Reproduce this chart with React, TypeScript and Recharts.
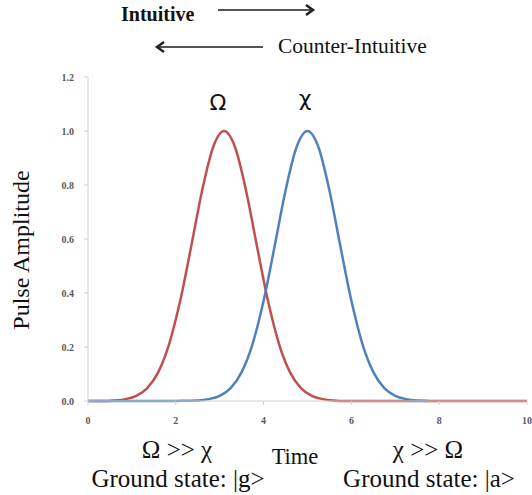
import { LineChart, Line, XAxis, YAxis } from "recharts";

// Omega pulse (red)
const omegaTime = [
  0, 0.1, 0.35, 0.6, 0.85, 1.1, 1.35, 1.6, 1.85, 2.1, 2.35, 2.6, 2.85, 3.1,
  3.35, 3.6, 3.85, 4.1, 4.35, 4.6, 4.85, 5.1, 5.35, 5.6, 5.85, 6.1, 10,
];
const omegaAmp = [
  0, 0, 0, 0.002, 0.007, 0.019, 0.048, 0.107, 0.212, 0.371, 0.572, 0.78,
  0.94, 1.0, 0.94, 0.78, 0.572, 0.371, 0.212, 0.107, 0.048, 0.019, 0.007,
  0.002, 0, 0, 0,
];

// Chi pulse (blue)
const chiTime = [
  0, 1, 2, 2.25, 2.5, 2.75, 3, 3.25, 3.5, 3.75, 4, 4.25, 4.5, 4.75, 5, 5.25,
  5.5, 5.75, 6, 6.25, 6.5, 6.75, 7, 7.25, 7.5, 7.75,
];
const chiAmp = [
  0, 0, 0, 0.001, 0.002, 0.007, 0.019, 0.048, 0.107, 0.212, 0.371, 0.572,
  0.78, 0.94, 1.0, 0.94, 0.78, 0.572, 0.371, 0.212, 0.107, 0.048, 0.019,
  0.007, 0.002, 0,
];

const xTicks = [0, 2, 4, 6, 8, 10];
const yTicks = [0, 0.2, 0.4, 0.6, 0.8, 1.0, 1.2];

const omegaData = omegaTime.map((t, i) => ({ t, v: omegaAmp[i] }));
const chiData = chiTime.map((t, i) => ({ t, v: chiAmp[i] }));

const serif = "'Liberation Serif', 'DejaVu Serif', serif";
const sans = "'DejaVu Sans', sans-serif";

const tickStyle = {
  fontSize: 10,
  fontFamily: serif,
  fontWeight: 700,
  fill: "#595959",
};

export default function App() {
  return (
    <div style={{ position: "absolute", left: 0, top: 0, width: 532, height: 495, background: "#fff" }}>
      <LineChart
        width={532}
        height={495}
        margin={{ top: 77, right: 5, bottom: 0, left: 0 }}
      >
        <XAxis
          dataKey="t"
          type="number"
          domain={[0, 10]}
          ticks={xTicks}
          height={94}
          tickSize={4}
          tickMargin={12}
          tick={tickStyle}
          stroke="#d0d0d0"
          allowDuplicatedCategory={false}
        />
        <YAxis
          type="number"
          domain={[0, 1.2]}
          ticks={yTicks}
          width={88}
          tickSize={4}
          tickMargin={10}
          tick={tickStyle}
          stroke="#d0d0d0"
          tickFormatter={(v: number) => v.toFixed(1)}
        />
        <Line
          data={omegaData}
          dataKey="v"
          type="monotone"
          stroke="#c0504d"
          strokeWidth={2.5}
          dot={false}
          isAnimationActive={false}
        />
        <Line
          data={chiData}
          dataKey="v"
          type="monotone"
          stroke="#4f81bd"
          strokeWidth={2.5}
          dot={false}
          isAnimationActive={false}
        />
      </LineChart>

      <svg
        width={532}
        height={495}
        style={{ position: "absolute", left: 0, top: 0, pointerEvents: "none" }}
      >
        <text x={121} y={21} fontFamily={serif} fontSize={20} fontWeight={700} fill="#111">
          Intuitive
        </text>
        <line x1={218} y1={10} x2={312} y2={10} stroke="#555" strokeWidth={2.2} />
        <path d="M306,5 L313,10 L306,15" fill="none" stroke="#222" strokeWidth={2.5} />
        <line x1={158} y1={47} x2={263} y2={47} stroke="#555" strokeWidth={2.2} />
        <path d="M164,42 L157,47 L164,52" fill="none" stroke="#222" strokeWidth={2.5} />
        <text x={278} y={53} fontFamily={serif} fontSize={21.5} fill="#111">
          Counter-Intuitive
        </text>

        <text x={218} y={110} textAnchor="middle" fontFamily={sans} fontSize={22} fill="#111">
          Ω
        </text>
        <text x={305} y={106} textAnchor="middle" fontFamily={sans} fontSize={22} fill="#111">
          χ
        </text>

        <text
          transform="translate(29,250) rotate(-90)"
          textAnchor="middle"
          fontFamily={serif}
          fontSize={24}
          fill="#111"
        >
          Pulse Amplitude
        </text>

        <text x={177} y={458} textAnchor="middle" fontFamily={serif} fontSize={25} fill="#111">
          Ω &gt;&gt; χ
        </text>
        <text x={295} y={464} textAnchor="middle" fontFamily={serif} fontSize={22.5} fill="#111">
          Time
        </text>
        <text x={428} y={458} textAnchor="middle" fontFamily={serif} fontSize={25} fill="#111">
          χ &gt;&gt; Ω
        </text>
        <text x={178} y={487} textAnchor="middle" fontFamily={serif} fontSize={25} fill="#111">
          Ground state: |g&gt;
        </text>
        <text x={429} y={487} textAnchor="middle" fontFamily={serif} fontSize={25} fill="#111">
          Ground state: |a&gt;
        </text>
      </svg>
    </div>
  );
}
